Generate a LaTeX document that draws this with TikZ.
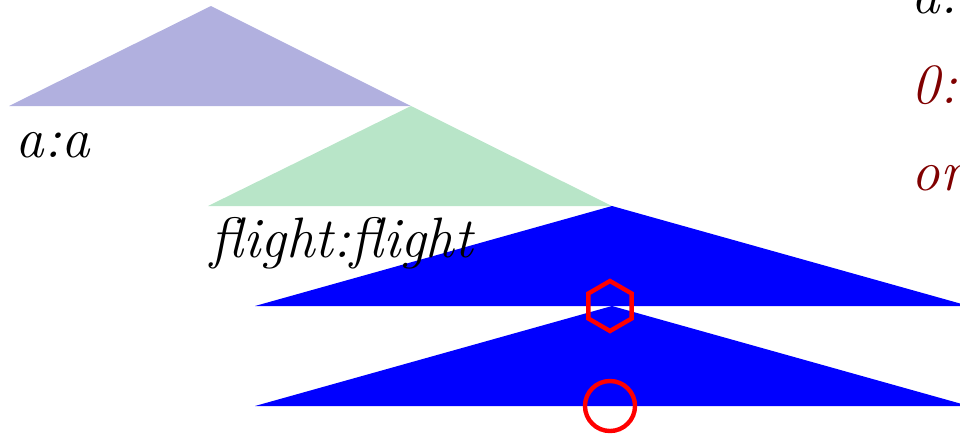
\documentclass[tikz,border=0pt]{standalone}
\usetikzlibrary{shapes.geometric}
\definecolor{lav}{RGB}{177,176,223}
\definecolor{mint}{RGB}{184,229,200}
\definecolor{dred}{RGB}{128,0,0}
\tikzset{
  lbl/.style={anchor=base west, inner sep=0pt, font=\fontsize{16.2}{20}\selectfont\itshape},
  redmark/.style={draw=red, line width=1.25pt, inner sep=0pt}
}
\begin{document}
\begin{tikzpicture}[x=0.01cm,y=-0.01cm]
\useasboundingbox (0,0) rectangle (960,433);
\fill[lav] (211,6) -- (411,106) -- (9,106) -- cycle;
\fill[mint] (411,106) -- (612,206) -- (208,206) -- cycle;
\fill[blue] (612,206) -- (969,306) -- (255,306) -- cycle;
\fill[blue] (612,306) -- (969,406) -- (255,406) -- cycle;
\node[lbl] (aa) at (15,157) {a:a};
\node[lbl] (fl) at (210,257) {flight:flight};
\node[lbl] (r1) at (911,13) {a:};
\node[lbl, text=dred] (r2) at (911,103) {0:};
\node[lbl, text=dred] (r3) at (911,190) {or};
\draw[redmark] (610,306) +(90:25) -- +(150:25) -- +(210:25) -- +(270:25) -- +(330:25) -- +(30:25) -- cycle;
\node[redmark, circle, minimum size=0.5cm] (c) at (610,406) {};
\end{tikzpicture}
\end{document}
